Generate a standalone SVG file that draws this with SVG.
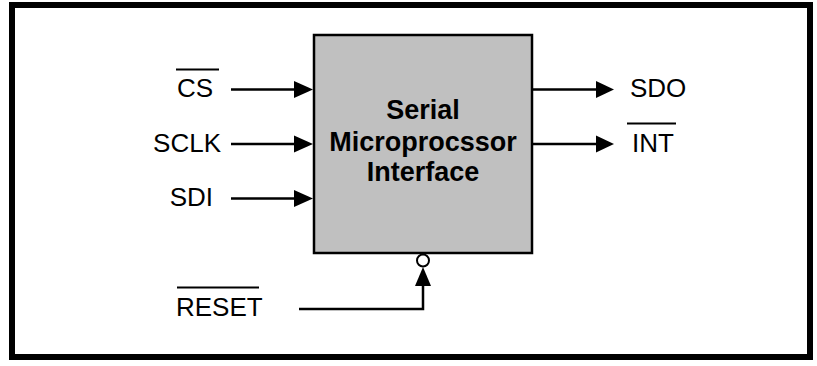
<svg xmlns="http://www.w3.org/2000/svg" width="817" height="366" viewBox="0 0 817 366">
<defs>
<style>
.lbl{font-family:"Liberation Sans",Arial,sans-serif;font-size:26px;fill:#000}
.ttl{font-family:"Liberation Sans",Arial,sans-serif;font-size:27px;font-weight:bold;fill:#000;text-anchor:middle}
.wire{stroke:#000;stroke-width:2.5;fill:none}
.ovl{stroke:#000;stroke-width:2}
.head{fill:#000}
</style>
</defs>
<rect x="12" y="5" width="798" height="352" fill="#fff" stroke="#000" stroke-width="6"/>
<g id="block">
<rect x="314" y="35" width="218" height="218" fill="#c0c0c0" stroke="#000" stroke-width="2.5"/>
<text class="ttl" x="423" y="119">Serial</text>
<text class="ttl" x="423" y="151">Microprocssor</text>
<text class="ttl" x="423" y="181">Interface</text>
</g>
<g id="cs">
<text class="lbl" x="213" y="97" text-anchor="end">CS</text>
<line class="ovl" x1="176" y1="69.5" x2="219" y2="69.5"/>
</g>
<g id="sclk"><text class="lbl" x="221" y="152" text-anchor="end">SCLK</text></g>
<g id="sdi"><text class="lbl" x="213" y="206" text-anchor="end">SDI</text></g>
<g id="sdo"><text class="lbl" x="630" y="97">SDO</text></g>
<g id="int">
<text class="lbl" x="632" y="152">INT</text>
<line class="ovl" x1="627" y1="123.5" x2="676" y2="123.5"/>
</g>
<g id="reset">
<text class="lbl" x="176" y="316">RESET</text>
<line class="ovl" x1="177" y1="287.5" x2="259" y2="287.5"/>
</g>
<g id="connectors">
<line class="wire" x1="231" y1="89.5" x2="296" y2="89.5"/>
<polygon class="head" points="294,81 313,89.5 294,98"/>
<line class="wire" x1="231" y1="144" x2="296" y2="144"/>
<polygon class="head" points="294,135.5 313,144 294,152.5"/>
<line class="wire" x1="231" y1="198.5" x2="296" y2="198.5"/>
<polygon class="head" points="294,190 313,198.5 294,207"/>
<line class="wire" x1="532" y1="89.5" x2="598" y2="89.5"/>
<polygon class="head" points="596,81 614,89.5 596,98"/>
<line class="wire" x1="532" y1="144" x2="598" y2="144"/>
<polygon class="head" points="596,135.5 614,144 596,152.5"/>
<polyline class="wire" points="299,309 423,309 423,284"/>
<polygon class="head" points="415,286 423,267 431,286"/>
<circle cx="423" cy="260.5" r="6" fill="#fff" stroke="#000" stroke-width="2"/>
</g>
</svg>
